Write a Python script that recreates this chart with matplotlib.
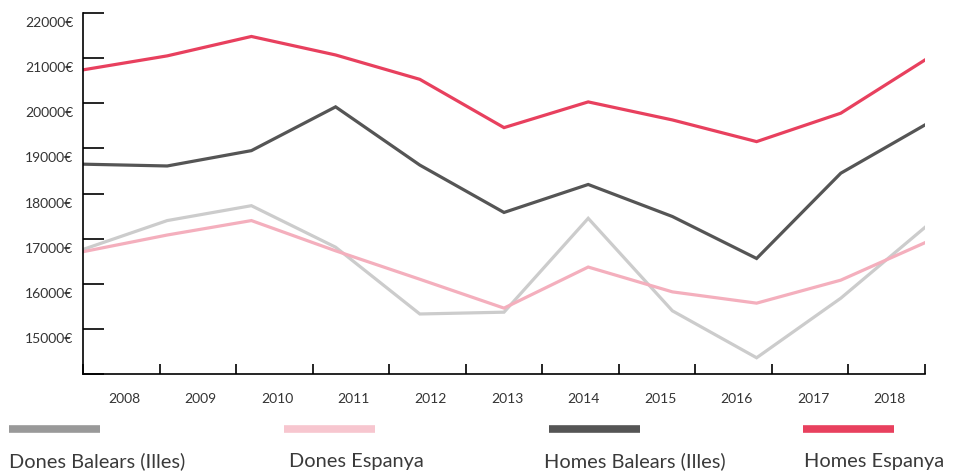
import numpy as np
import matplotlib
matplotlib.use("Agg")
import matplotlib.pyplot as plt
from matplotlib.lines import Line2D
from matplotlib.transforms import ScaledTranslation

plt.rcParams["font.family"] = ["Lato", "DejaVu Sans"]

years = ["2008", "2009", "2010", "2011", "2012", "2013", "2014", "2015", "2016", "2017", "2018"]
dones_balears = [16760, 17400, 17730, 16810, 15330, 15370, 17450, 15400, 14360, 15680, 17250]
dones_espanya = [16710, 17080, 17400, 16730, 16100, 15460, 16370, 15820, 15570, 16080, 16910]
homes_balears = [18650, 18610, 18950, 19920, 18630, 17580, 18200, 17490, 16560, 18450, 19520]
homes_espanya = [20740, 21050, 21480, 21070, 20530, 19460, 20030, 19630, 19150, 19780, 20960]
y_ticks = [14000, 15000, 16000, 17000, 18000, 19000, 20000, 21000, 22000]

series = [
    ("Dones Balears (Illes)", dones_balears, "#cccccc", "#999999"),
    ("Dones Espanya", dones_espanya, "#f4afbd", "#f7c6cf"),
    ("Homes Balears (Illes)", homes_balears, "#555555", "#555555"),
    ("Homes Espanya", homes_espanya, "#e8405e", "#e8405e"),
]

fig = plt.figure(figsize=(9.62, 4.72), dpi=100)
ax = fig.add_axes([83 / 962, 1 - 374 / 472, (925 - 83) / 962, (374 - 13) / 472])

x = np.arange(len(years))
for name, vals, col, _ in series:
    ax.plot(x, vals, color=col, lw=2.3, solid_joinstyle="miter")

ax.set_xlim(0, len(years) - 1)
ax.set_ylim(y_ticks[0], y_ticks[-1])

for side in ["top", "right"]:
    ax.spines[side].set_visible(False)
for side in ["left", "bottom"]:
    ax.spines[side].set_linewidth(1.2)
    ax.spines[side].set_color("black")

# y axis: inward ticks, labels sit a bit below their tick
ax.set_yticks(y_ticks)
ax.set_yticklabels([f"{v}€" if v > y_ticks[0] else "" for v in y_ticks])
ax.tick_params(axis="y", direction="in", length=15, width=1.2, pad=7,
               labelsize=10, labelcolor="#333333")
shift = ScaledTranslation(0, -0.09, fig.dpi_scale_trans)
for lab in ax.get_yticklabels():
    lab.set_transform(lab.get_transform() + shift)

# x axis: year bands, labels centred in each band
n = len(years)
span = n - 1
ax.set_xticks([k * span / n for k in range(n + 1)])
ax.set_xticklabels([])
ax.set_xticks([(k + 0.5) * span / n for k in range(n)], minor=True)
ax.set_xticklabels(years, minor=True)
ax.tick_params(axis="x", which="major", direction="in", length=7, width=1.2)
ax.tick_params(axis="x", which="minor", length=0, pad=14, labelsize=10,
               labelcolor="#333333")
xshift = ScaledTranslation(0.03, 0, fig.dpi_scale_trans)
for lab in ax.get_xticklabels(minor=True):
    lab.set_transform(lab.get_transform() + xshift)

# legend row below the chart
sw_x = [9, 284, 549, 803]
tx_x = [9, 289, 544, 804]
for (name, _, _, swc), sx, tx in zip(series, sw_x, tx_x):
    fig.add_artist(Line2D([sx / 962, (sx + 91) / 962], [1 - 429 / 472] * 2,
                          color=swc, lw=5.5, solid_capstyle="butt"))
    fig.text(tx / 962, 1 - 461 / 472, name, fontsize=14.4, color="#3a3a3a",
             ha="left", va="center")

fig.savefig("out.png", dpi=100)
